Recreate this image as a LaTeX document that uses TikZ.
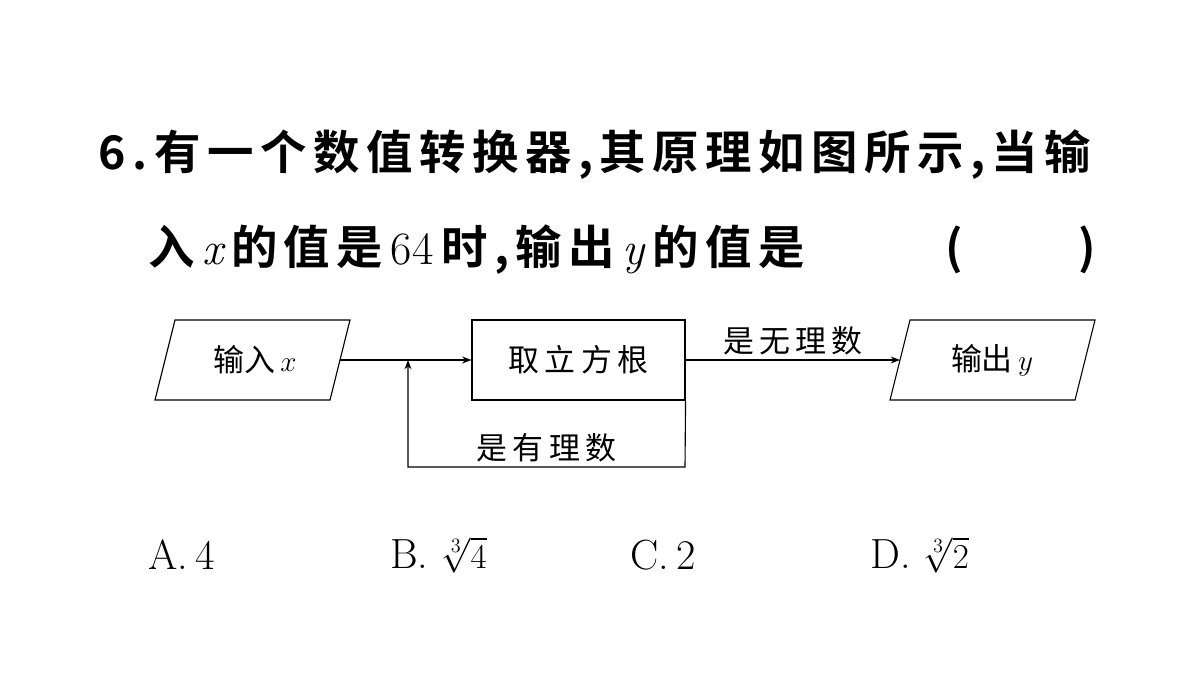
\documentclass[tikz,border=0pt]{standalone}
\usepackage{fontspec}
\newfontfamily\cjk{Noto Sans CJK SC}
\newfontfamily\cjkb{Noto Sans CJK SC}[BoldFont={* Bold},LetterSpace=14]
\usetikzlibrary{positioning,arrows.meta}
\begin{document}
\begin{tikzpicture}[x=0.025cm,y=-0.025cm,>=Stealth,
  line/.style={line width=0.8pt},
  qtext/.style={anchor=west,inner sep=0pt,font=\fontsize{33}{38}\selectfont\cjkb\bfseries},
  ftext/.style={font=\fontsize{22}{26}\selectfont\cjk},
  opt/.style={anchor=west,inner sep=0pt,font=\fontsize{30}{34}\selectfont}]
\useasboundingbox (0,0) rectangle (1200,675);
% question
\node[qtext] (q1) at (98,155) {6.\,有一个数值转换器,其原理如图所示,当输};
\node[qtext] (q2) at (148,250) {入\,{\normalfont\itshape x}\,的值是\,{\normalfont 64}\,时,输出\,{\normalfont\itshape y}\,的值是};
\node[qtext] (lp) at (945,250) {(};
\node[qtext] (rp) at (1078,250) {)};
% flowchart
\draw[line] (175,320) -- (350,320) -- (330,400) -- (155,400) -- cycle;
\node[ftext] (in) at (255,360) {输入\,$x$};
\node[draw,line,minimum width=213*0.025cm,minimum height=80*0.025cm,ftext] (root) at (578.5,360) {取\,立\,方\,根};
\draw[line] (910,320) -- (1095,320) -- (1075,400) -- (890,400) -- cycle;
\node[ftext] (out) at (992,360) {输出\,$y$};
\coordinate (inr) at (340,360);
\coordinate (outl) at (900,360);
\coordinate (join) at (408,360);
\draw[line,->] (inr) -- (root.west);
\draw[line,->] (root.east) -- node[above,ftext] {是\,无\,理\,数} (outl);
\draw[line,->] (root.south east) -- (685,467) -- node[above,ftext] {是\,有\,理\,数} (408,467) -- (join);
% options
\node[opt] (a) at (148,555) {A.\,4};
\node[opt] (b) at (390,555) {B.\ $\sqrt[3]{4}$};
\node[opt] (c) at (630,555) {C.\,2};
\node[opt] (d) at (870,555) {D.\ $\sqrt[3]{2}$};
\end{tikzpicture}
\end{document}
